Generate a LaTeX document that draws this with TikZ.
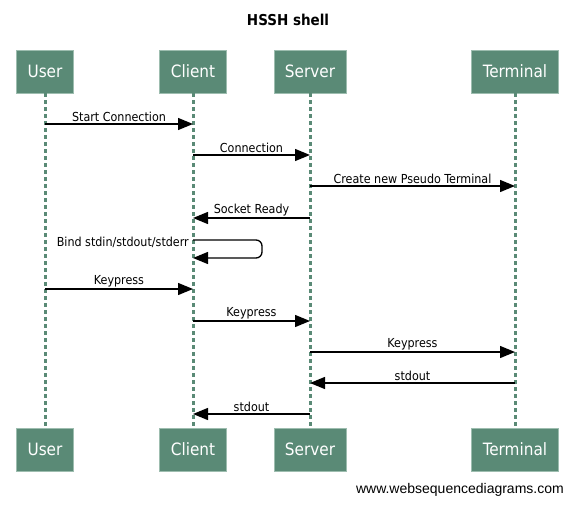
\documentclass[tikz,border=0pt]{standalone}
\usepackage{fontspec}
\setmainfont{DejaVu Sans Condensed}
\newfontfamily\footfont{Liberation Sans}
\usetikzlibrary{arrows.meta,positioning}
\definecolor{actorgreen}{HTML}{5A8A76}
\definecolor{actorrim}{HTML}{9DBDAF}

\begin{document}
\begin{tikzpicture}[x=1pt, y=-1pt, font=\fontsize{12.4}{14}\selectfont, >={Triangle[length=15pt,width=12pt]},
  actor/.style={draw=actorrim, fill=actorgreen, text=white, line width=0.8pt, minimum height=43pt, inner xsep=11pt, font=\fontsize{17}{19}\selectfont},
  life/.style={actorgreen, line width=3pt, dash pattern=on 4pt off 3pt},
  msg/.style={->, line width=1.3pt},
  lbl/.style={above, inner sep=1.5pt}]
  \useasboundingbox (0,0) rectangle (576,506);
  \node[font=\bfseries\fontsize{15}{17}\selectfont] (title) at (288,20) {HSSH shell};
  \node[actor] (userTop) at (45,71.5) {User};
  \node[actor] (clientTop) at (193,71.5) {Client};
  \node[actor] (serverTop) at (310,71.5) {Server};
  \node[actor] (terminalTop) at (515,71.5) {Terminal};
  \node[actor] (userBot) at (45,449.5) {User};
  \node[actor] (clientBot) at (193,449.5) {Client};
  \node[actor] (serverBot) at (310,449.5) {Server};
  \node[actor] (terminalBot) at (515,449.5) {Terminal};
  \foreach \p in {user,client,server,terminal}
    \draw[life] (\p Top) -- (\p Bot);
  \draw[msg] (userTop.center |- 0,124) -- node[lbl] {Start Connection} (clientTop.center |- 0,124);
  \draw[msg] (clientTop.center |- 0,155) -- node[lbl] {Connection} (serverTop.center |- 0,155);
  \draw[msg] (serverTop.center |- 0,186) -- node[lbl] {Create new Pseudo Terminal} (terminalTop.center |- 0,186);
  \draw[msg] (serverTop.center |- 0,218) -- node[lbl] {Socket Ready} (clientTop.center |- 0,218);
  \draw[msg, rounded corners=6pt] (clientTop.center |- 0,240) -| (262,258) -- (clientTop.center |- 0,258);
  \node[anchor=east, inner sep=0pt] (bindLbl) at (189,242) {Bind stdin/stdout/stderr};
  \draw[msg] (userTop.center |- 0,289) -- node[lbl] {Keypress} (clientTop.center |- 0,289);
  \draw[msg] (clientTop.center |- 0,321) -- node[lbl] {Keypress} (serverTop.center |- 0,321);
  \draw[msg] (serverTop.center |- 0,352) -- node[lbl] {Keypress} (terminalTop.center |- 0,352);
  \draw[msg] (terminalTop.center |- 0,383) -- node[lbl] {stdout} (serverTop.center |- 0,383);
  \draw[msg] (serverTop.center |- 0,414) -- node[lbl] {stdout} (clientTop.center |- 0,414);
  \node[font=\footfont\fontsize{14}{16}\selectfont, anchor=east, inner sep=0pt] (credit) at (564,490) {www.websequencediagrams.com};
\end{tikzpicture}
\end{document}
